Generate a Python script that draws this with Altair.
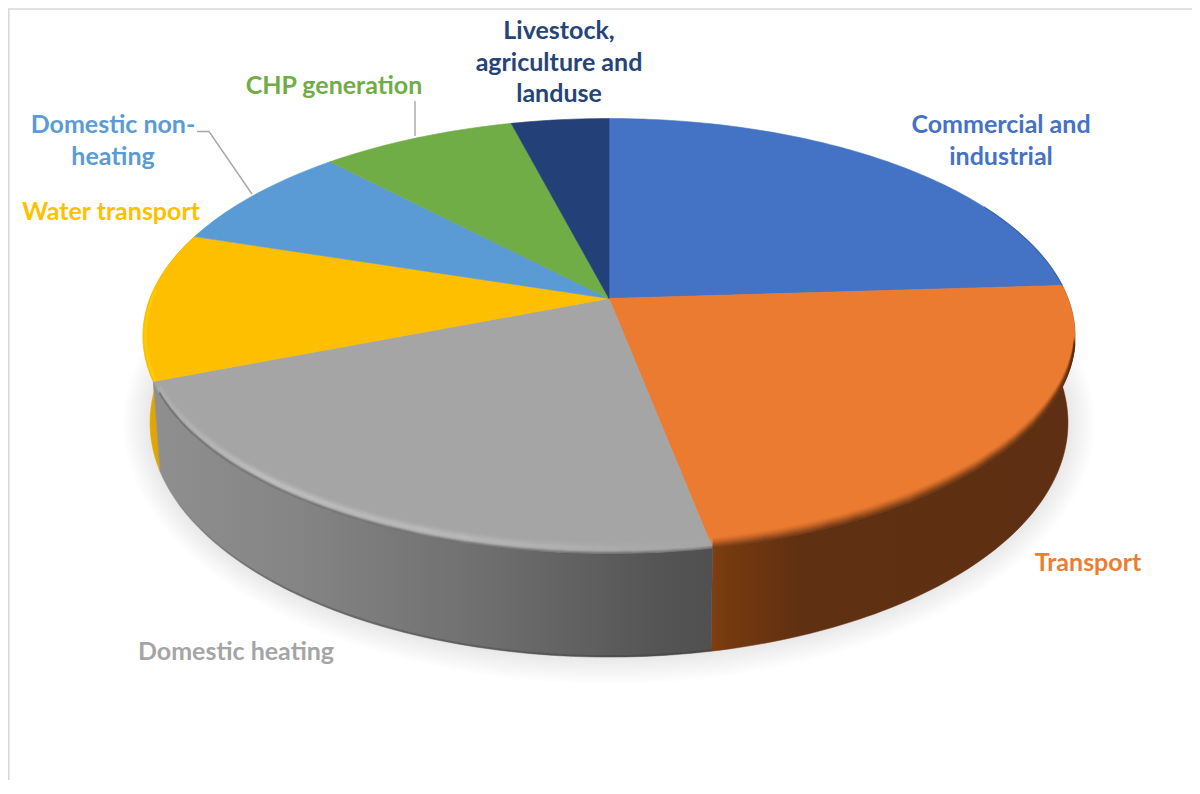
import math
import altair as alt
import pandas as pd

# ---- data ----
categories = ["Commercial and\nindustrial", "Transport", "Domestic heating", "Water transport",
              "Domestic non-\nheating", "CHP generation", "Livestock,\nagriculture and\nlanduse"]
shares = [24, 23, 22, 11, 8, 8, 4]
top_colors = ["#4472c4", "#eb7b30", "#a5a5a5", "#fdbf00", "#5b9bd5", "#70ad47", "#234078"]
label_colors = ["#4472c4", "#ed7d31", "#a5a5a5", "#ffc000", "#5b9bd5", "#70ad47", "#264478"]

# ---- layout (page pixels) ----
label_x = [1001, 1088, 236, 111, 113, 334, 559]
label_y = [125, 563, 652, 212, 125, 86, 31]
W, H = 1184, 772
CX, CY, K, G, F = 609, 298.5, 0.1724, 211, 459
BX, BY, BT = 0.985, 1.078, 60.5


def project(theta, r=1.0, lower=False, dy=0.0):
    """Perspective view of a point on the pie's disc; theta clockwise from 12 o'clock."""
    a = math.radians(theta)
    X, Z = r * math.sin(a), r * math.cos(a)
    w = 1 + K * Z
    x, y = F * X / w, G * Z / w
    sx, sy = CX + x, CY - y
    if lower:
        sx, sy = CX + BX * x, BY * sy + BT
    return sx, sy + dy


def arc(t0, t1, **kw):
    n = max(2, int(abs(t1 - t0)) + 1)
    return [project(t0 + (t1 - t0) * i / (n - 1), **kw) for i in range(n)]


def frame(pts):
    return pd.DataFrame({"x": [p[0] for p in pts], "y": [p[1] for p in pts], "i": range(len(pts))})


xs = alt.Scale(domain=[8, 8 + W], nice=False, zero=False)
ys = alt.Scale(domain=[8 + H, 8], nice=False, zero=False)
enc = dict(x=alt.X("x:Q", scale=xs, axis=None), y=alt.Y("y:Q", scale=ys, axis=None), order=alt.Order("i:Q"))


def shape(pts, **mark):
    return alt.Chart(frame(pts)).mark_line(interpolate="linear", **mark).encode(**enc)


def grad(*stops):
    return alt.LinearGradient(gradient="linear", x1=0, x2=1, y1=0, y2=0,
                              stops=[alt.GradientStop(offset=o, color=c) for o, c in stops])


edges = [0]
for s in shares:
    edges.append(edges[-1] + s / sum(shares) * 360)

layers = []

# frame of the chart area
layers.append(shape([(8.8, 780), (8.8, 9), (1192, 9)], stroke="#d9d9d9", strokeWidth=1.6))

# soft shadow under the disc
for g in range(12):
    grow = g * 2.4
    pts = [project(t, lower=True) for t in range(0, 361, 2)]
    pts = [(CX + (x - CX) * (1 + grow / 456), 420 + (y - 420) * (1 + grow / 235)) for x, y in pts]
    layers.append(shape(pts, fill="#000000", fillOpacity=0.009, strokeOpacity=0, strokeWidth=0))

# side wall
wall_fills = {
    3: grad((0, "#e8aa00"), (1, "#c89000")),
    1: grad((0, "#7e3f10"), (0.05, "#75390f"), (0.25, "#5f3012"), (1, "#5e2f12")),
    2: grad((0, "#8f8f8f"), (0.25, "#858585"), (0.6, "#6e6e6e"), (0.9, "#555555"), (1, "#505050")),
}
for idx in (3, 1, 2):
    t0, t1 = edges[idx], edges[idx + 1]
    pts = arc(t0, t1) + arc(t1, t0, lower=True)
    layers.append(shape(pts + pts[:1], fill=wall_fills[idx], stroke=wall_fills[idx], strokeWidth=0.5))

# dark foot of the grey wall, fading out toward the left
for cut, op in [(28, 0.08), (24, 0.08), (20, 0.08), (14, 0.08), (8, 0.08)]:
    layers.append(shape(arc(edges[2], edges[3] - cut, lower=True, dy=-1), stroke="#3c3c3c", strokeWidth=1.6, opacity=op))

# top face
for idx in range(len(shares)):
    pts = [(CX, CY)] + arc(edges[idx], edges[idx + 1]) + [(CX, CY)]
    layers.append(shape(pts, fill=top_colors[idx], stroke=top_colors[idx], strokeWidth=0.6))

# bevel on the rim
for t in range(0, 11):
    layers.append(shape(arc(edges[1] + 16, edges[2], dy=-t), stroke="#5e2f12", strokeWidth=1.6,
                        opacity=round(0.75 * (1 - t / 11) ** 1.6, 3)))
hi = grad((0, "#b0b0b0"), (0.2, "#d0d0d0"), (0.55, "#c8c8c8"), (0.85, "#aeaeae"), (1, "#a5a5a5"))
for t, op in [(2, 0.12), (3, 0.22), (4, 0.3), (5, 0.38), (6, 0.38), (7, 0.3), (8, 0.22), (9, 0.14), (10, 0.08), (11, 0.04)]:
    layers.append(shape(arc(edges[2], edges[3] - 3, dy=-t), stroke=hi, strokeWidth=1.6, opacity=op))
for t, op in [(0, 0.5), (1, 0.3), (2, 0.12)]:
    layers.append(shape(arc(edges[2], edges[3] - 3, dy=-t), stroke="#555555", strokeWidth=1.4, opacity=op))
layers.append(shape(arc(edges[3], edges[3] + 24, r=0.995), stroke="#ffd400", strokeWidth=2.5, opacity=0.55))
layers.append(shape(arc(edges[0] + 62, edges[1]), stroke="#2f5597", strokeWidth=1.2, opacity=0.7))

# leader lines
layers.append(shape([(197, 131.5), (209, 131.5), (252, 194)], stroke="#a6a6a6", strokeWidth=1.4))
layers.append(shape([(415, 101), (415, 136)], stroke="#a6a6a6", strokeWidth=1.4))

# labels
labels = pd.DataFrame({"text": categories, "x": label_x, "y": label_y, "c": label_colors})
layers.append(
    alt.Chart(labels).mark_text(font="Lato", fontWeight="bold", fontSize=25, lineBreak="\n", lineHeight=31.5,
                                align="center", baseline="middle").encode(
        x=alt.X("x:Q", scale=xs, axis=None), y=alt.Y("y:Q", scale=ys, axis=None),
        text="text:N", color=alt.Color("c:N", scale=None))
)

chart = alt.layer(*layers).properties(width=W, height=H, padding=0, autosize="none", background="#ffffff").configure_view(stroke=None)
chart.save("out.html", embed_options={"renderer": "svg", "actions": False})
